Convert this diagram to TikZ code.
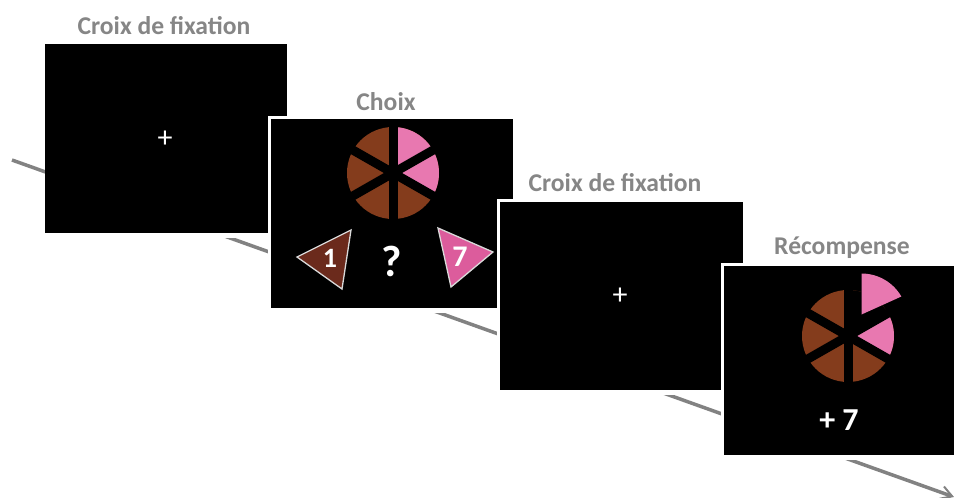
\documentclass[tikz,border=0pt]{standalone}
\usepackage{fontspec}
\usetikzlibrary{arrows.meta}
\setmainfont{Carlito}
\definecolor{wheelbrown}{HTML}{843C1C}
\definecolor{wheelpink}{HTML}{E878B0}
\definecolor{tribrown}{HTML}{6B2A1C}
\definecolor{tripink}{HTML}{DC5C9C}
\definecolor{labelgray}{HTML}{868686}
\definecolor{linegray}{HTML}{828282}
\tikzset{
  halo/.style={fill=white,draw=none},
  title/.style={font=\fontsize{25.6}{26}\selectfont\bfseries,text=labelgray,inner sep=0pt},
  symb/.style={font=\fontsize{#1}{#1}\selectfont\bfseries,text=white,inner sep=0pt},
  fixcross/.style={font=\fontsize{30}{30}\selectfont,text=white,inner sep=0pt},
  spoke/.style={draw=black,line width=9pt},
  tri/.style={draw=white!85!black,line width=1.3pt,line join=miter},
}
\begin{document}
\begin{tikzpicture}[x=1pt,y=-1pt]
\useasboundingbox (0,0) rectangle (954,498);
\fill[white] (0,0) rectangle (954,498);
% time arrow
\coordinate (tstart) at (12,160);
\coordinate (tend) at (954,497);
\draw[linegray,line width=3.5pt,-{Straight Barb[length=11pt,width=13pt,line width=2pt]}] (tstart) -- (tend);
% screen 1
\fill[halo] (45,44) rectangle (287,238);
\fill[black] (45,44) rectangle (287,233);
\node[fixcross] (c1) at (165,139) {+};
\node[title] (t1) at (164,26) {Croix de fixation};
% screen 2
\fill[halo] (268,116) rectangle (516,313);
\fill[black] (271,119) rectangle (513,308);
\node[title] (t2) at (386,102) {Choix};
\begin{scope}[shift={(393,173)}]
  \fill[wheelbrown] (0,0) circle (46);
  \fill[wheelpink] (0,0) -- (0,-46) arc[start angle=-90,end angle=-30,radius=46] -- cycle;
  \fill[wheelpink] (0,0) -- ({46*cos(30)},{-46*sin(30)}) arc[start angle=-30,end angle=30,radius=46] -- cycle;
  \draw[spoke] (0,-48) -- (0,48);
  \draw[spoke] (-42,-24) -- (42,24);
  \draw[spoke] (-42,24) -- (42,-24);
\end{scope}
\draw[tri,fill=tribrown] (297,257) -- (351,230) -- (342,289) -- cycle;
\draw[tri,fill=tripink] (438,228) -- (493,252) -- (451,287) -- cycle;
\node[symb=28] (n1) at (330,258) {1};
\node[symb=30] (n7) at (460,257) {7};
\node[symb=44] (q) at (392,261) {?};
% screen 3
\fill[halo] (497,199) rectangle (746,395);
\fill[black] (500,202) rectangle (743,390);
\node[fixcross] (c2) at (620,296) {+};
\node[title] (t3) at (615,183) {Croix de fixation};
% screen 4
\fill[halo] (721,263) rectangle (954,460);
\fill[black] (724,266) rectangle (954,455);
\node[title] (t4) at (842,248) {Récompense};
\begin{scope}[shift={(848,336)}]
  \fill[wheelbrown] (0,0) circle (46);
  \fill[wheelpink] (0,0) -- ({46*cos(30)},{-46*sin(30)}) arc[start angle=-30,end angle=30,radius=46] -- cycle;
  \fill[black] (0,0) -- (0,-46) arc[start angle=-90,end angle=-30,radius=46] -- cycle;
  \draw[spoke] (0,-48) -- (0,48);
  \draw[spoke] (-42,-24) -- (42,24);
  \draw[spoke] (-42,24) -- (42,-24);
  \fill[wheelpink] (13.5,-62.5) arc[start angle=-90,end angle=-30,radius=46] -- (13.5,-21.5) -- cycle;
\end{scope}
\node[symb=32] (r) at (839,420) {+ 7};
\end{tikzpicture}
\end{document}
